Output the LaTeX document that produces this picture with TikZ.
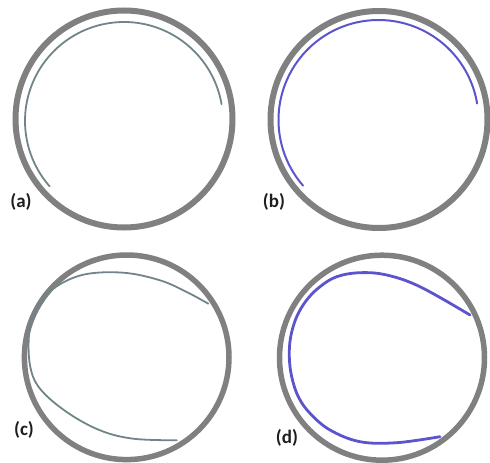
\documentclass[tikz,border=0pt]{standalone}
\usepackage{fontspec}
\setmainfont{Carlito}
\begin{document}
\begin{tikzpicture}[x=1pt,y=-1pt,
  ring/.style={draw={rgb,255:red,128;green,128;blue,128}, line width=6pt},
  grayarc/.style={draw={rgb,255:red,112;green,132;blue,138}, line width=1.8pt, line cap=round},
  bluearc/.style={draw={rgb,255:red,92;green,84;blue,205}, line width=2pt, line cap=round},
  bluearcthick/.style={draw={rgb,255:red,92;green,84;blue,205}, line width=2.8pt, line cap=round},
  lab/.style={font=\fontsize{19}{19}\selectfont\bfseries, text={rgb,255:red,30;green,30;blue,30}, inner sep=0pt}]
\useasboundingbox (0,0) rectangle (490,463);
% (a)
\draw[ring] (124,119) circle[radius=108.5];
\draw[grayarc] (124,121) ++(-9.8:99) arc[start angle=-9.8, end angle=-221.3, radius=99];
\node[lab] (la) at (21,202) {(a)};
% (b)
\draw[ring] (379,119.5) circle[radius=108.5];
\draw[bluearc] (378.5,120) ++(-9.5:100) arc[start angle=-9.5, end angle=-221, radius=100];
\node[lab] (lb) at (274,202) {(b)};
% (c)
\draw[ring, line width=5.5pt] (126.7,357.3) circle[radius=102.3];
\draw[grayarc] plot[smooth, tension=0.6] coordinates {
  (208.3,303.7) (186.7,292) (160,280.3) (123.3,272.7) (83.3,274.7)
  (53.3,288.7) (36.7,308.7) (29.3,332) (30,365.3) (40,388.7)
  (66.7,412) (100,430.3) (133.3,438.7) (176.7,440.3)};
\node[lab] (lc) at (24,430) {(c)};
% (d)
\draw[ring, line width=5.5pt] (382,357.7) circle[radius=102.5];
\draw[bluearcthick] plot[smooth, tension=0.6] coordinates {
  (470,315) (420,286.7) (386.7,275) (360,272.7) (336.7,276.7)
  (320,286.7) (306.7,300) (296.7,316.7) (290.7,336.7) (289.3,356.7)
  (291.7,376.7) (298.3,396.7) (310,413.3) (330,430) (360,441.7)
  (396.7,442.7) (440,436.7)};
\node[lab] (ld) at (287,438) {(d)};
\end{tikzpicture}
\end{document}
